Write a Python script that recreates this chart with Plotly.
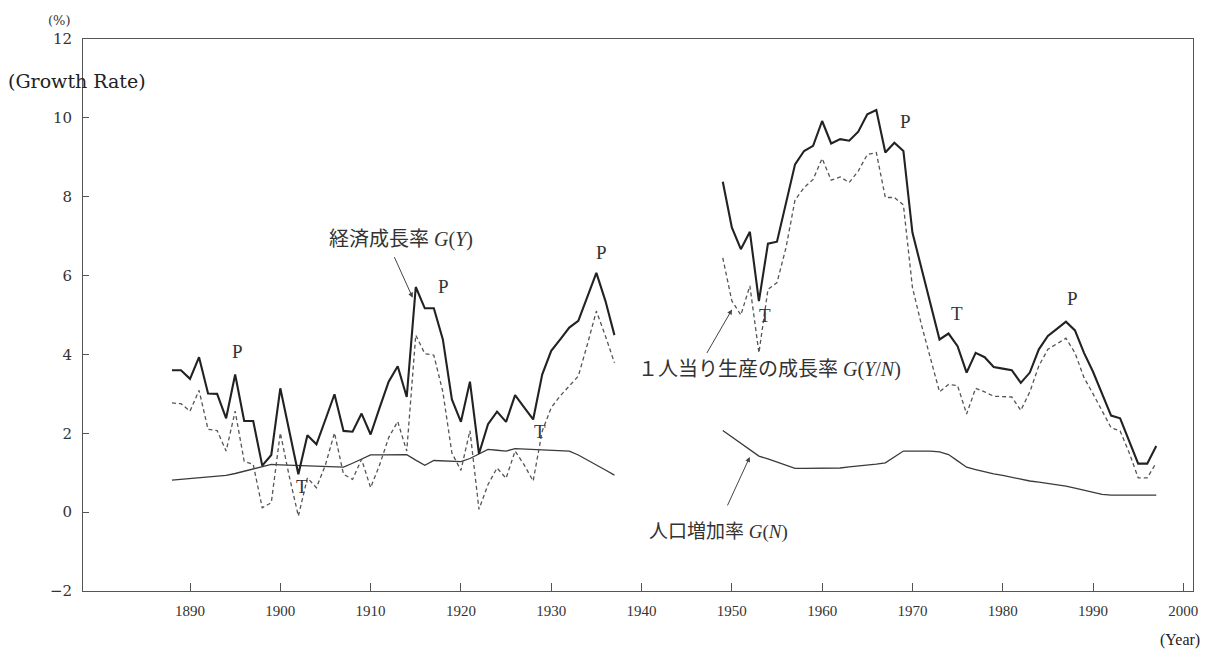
import plotly.graph_objects as go

# ---------------- data ----------------
years_pre = list(range(1888, 1938))
gy_pre = [3.60, 3.60, 3.38, 3.93, 3.01, 3.00, 2.38, 3.49, 2.31, 2.31,
          1.18, 1.45, 3.14, 2.05, 0.96, 1.95, 1.72, 2.35, 2.99, 2.06,
          2.04, 2.50, 1.97, 2.65, 3.31, 3.70, 2.92, 5.71, 5.17, 5.17,
          4.38, 2.86, 2.29, 3.31, 1.48, 2.23, 2.55, 2.29, 2.97, 2.66,
          2.35, 3.49, 4.09, 4.38, 4.68, 4.85, 5.45, 6.07, 5.36, 4.49]
gyn_pre = [2.77, 2.75, 2.56, 3.09, 2.10, 2.07, 1.55, 2.56, 1.29, 1.21,
           0.11, 0.24, 2.01, 0.90, -0.10, 0.87, 0.62, 1.20, 2.01, 0.96,
           0.83, 1.34, 0.62, 1.20, 1.89, 2.30, 1.55, 4.49, 4.02, 3.98,
           3.05, 1.50, 1.06, 2.07, 0.07, 0.70, 1.12, 0.86, 1.55, 1.20,
           0.79, 2.05, 2.65, 2.95, 3.20, 3.45, 4.25, 5.10, 4.47, 3.79]
gn_pre = [0.81, 0.83, 0.85, 0.87, 0.89, 0.91, 0.93, 0.98, 1.04, 1.10,
          1.16, 1.21, 1.20, 1.19, 1.18, 1.17, 1.16, 1.15, 1.14, 1.14,
          1.24, 1.35, 1.45, 1.45, 1.45, 1.45, 1.46, 1.32, 1.19, 1.31,
          1.30, 1.29, 1.28, 1.36, 1.48, 1.59, 1.57, 1.55, 1.61, 1.60,
          1.59, 1.58, 1.57, 1.56, 1.55, 1.45, 1.33, 1.20, 1.07, 0.94]

years_post = list(range(1949, 1998))
gy_post = [8.38, 7.22, 6.67, 7.11, 5.35, 6.81, 6.86, 7.85, 8.82, 9.16,
           9.29, 9.92, 9.35, 9.46, 9.42, 9.65, 10.09, 10.20, 9.12, 9.37,
           9.16, 7.09, 6.20, 5.30, 4.38, 4.53, 4.21, 3.54, 4.04, 3.93,
           3.68, 3.64, 3.60, 3.28, 3.54, 4.13, 4.47, 4.65, 4.83, 4.61,
           4.04, 3.56, 2.99, 2.45, 2.38, 1.80, 1.23, 1.23, 1.68]
gyn_post = [6.45, 5.36, 5.00, 5.74, 4.04, 5.65, 5.82, 6.71, 7.92, 8.23,
            8.44, 8.97, 8.42, 8.50, 8.36, 8.65, 9.07, 9.12, 7.98, 7.98,
            7.79, 5.70, 4.75, 3.90, 3.05, 3.24, 3.21, 2.49, 3.14, 3.05,
            2.94, 2.93, 2.92, 2.58, 3.05, 3.71, 4.13, 4.27, 4.41, 4.04,
            3.41, 3.00, 2.55, 2.14, 2.06, 1.51, 0.87, 0.87, 1.25]
gn_post = [2.07, 1.91, 1.75, 1.58, 1.42, 1.35, 1.27, 1.19, 1.11, 1.11,
           1.11, 1.12, 1.12, 1.12, 1.15, 1.17, 1.20, 1.22, 1.25, 1.40,
           1.55, 1.55, 1.55, 1.55, 1.53, 1.46, 1.30, 1.14, 1.08, 1.02,
           0.97, 0.93, 0.88, 0.83, 0.79, 0.76, 0.73, 0.70, 0.66, 0.61,
           0.56, 0.50, 0.45, 0.43, 0.43, 0.43, 0.43, 0.43, 0.43]

x_ticks = list(range(1890, 2001, 10))
y_ticks = [-2, 0, 2, 4, 6, 8, 10, 12]

# peak / trough markers (year, value, letter)
pt_years = [1895.3, 1918.1, 1935.6, 1969.2, 1987.7, 1902.4, 1928.8, 1953.7, 1974.9]
pt_vals = [4.07, 5.72, 6.59, 9.92, 5.42, 0.64, 2.04, 4.99, 5.04]
pt_text = ["P", "P", "P", "P", "P", "T", "T", "T", "T"]

SERIF = "Liberation Serif, Times New Roman, serif"
WSERIF = "DejaVu Serif, serif"
MIX = "Liberation Serif, Noto Sans CJK JP, serif"

fig = go.Figure()

def add_series(xs, ys, width, color, dash):
    fig.add_trace(go.Scatter(x=xs, y=ys, mode="lines",
                             line=dict(color=color, width=width, dash=dash),
                             showlegend=False, hoverinfo="skip"))

for yrs, gn in [(years_pre, gn_pre), (years_post, gn_post)]:
    add_series(yrs, gn, 1.3, "#3a3a3a", "solid")
for yrs, gyn in [(years_pre, gyn_pre), (years_post, gyn_post)]:
    add_series(yrs, gyn, 1.3, "#555555", "4px,3px")
for yrs, gy in [(years_pre, gy_pre), (years_post, gy_post)]:
    add_series(yrs, gy, 2.1, "#222222", "solid")

annotations = []
for xv, yv, t in zip(pt_years, pt_vals, pt_text):
    annotations.append(dict(x=xv, y=yv, text=t, showarrow=False,
                            font=dict(family=SERIF, size=19, color="#333")))

# series labels
annotations.append(dict(x=1913.4, y=6.92, text="経済成長率 <i>G</i>(<i>Y</i>)",
                        showarrow=False, font=dict(family=MIX, size=20, color="#333")))
annotations.append(dict(x=1954.2, y=3.61, text="１人当り生産の成長率 <i>G</i>(<i>Y</i>/<i>N</i>)",
                        showarrow=False, font=dict(family=MIX, size=20, color="#333")))
annotations.append(dict(x=1948.5, y=-0.50, text="人口増加率 <i>G</i>(<i>N</i>)",
                        showarrow=False, font=dict(family=MIX, size=19, color="#333")))

# arrows
for hx, hy, ax, ay in [(1914.66, 5.44, -19, -42), (1950.02, 5.14, -26, 45), (1951.99, 1.40, -23, 50)]:
    annotations.append(dict(x=hx, y=hy, ax=ax, ay=ay, text="", showarrow=True,
                            arrowhead=2, arrowsize=1, arrowwidth=1, arrowcolor="#444"))

# axis captions
annotations.append(dict(x=-0.0216, y=1.034, xref="paper", yref="paper", text="(%)",
                        xanchor="center", yanchor="middle", showarrow=False,
                        font=dict(family=WSERIF, size=13, color="#333")))
annotations.append(dict(x=-0.0054, y=0.924, xref="paper", yref="paper", text="(Growth Rate)",
                        xanchor="center", yanchor="middle", showarrow=False,
                        font=dict(family=WSERIF, size=19, color="#222")))
annotations.append(dict(x=0.988, y=-0.089, xref="paper", yref="paper", text="(Year)",
                        xanchor="center", yanchor="middle", showarrow=False,
                        font=dict(family=SERIF, size=16, color="#222")))

fig.update_layout(
    width=1206, height=651,
    margin=dict(l=75, r=21, t=31, b=68),
    paper_bgcolor="white", plot_bgcolor="white",
    annotations=annotations,
    xaxis=dict(range=[1878.15, 2001.07], tickvals=x_ticks, ticktext=[str(v) for v in x_ticks],
               ticks="inside", ticklen=8, tickcolor="#555", showgrid=False, zeroline=False,
               showline=True, linecolor="#555", linewidth=1, mirror=True,
               tickfont=dict(family=SERIF, size=15, color="#333"), ticklabelstandoff=6),
    yaxis=dict(range=[-2, 12], tickvals=y_ticks, ticks="inside", ticklen=6, tickcolor="#555",
               showgrid=False, zeroline=False, showline=True, linecolor="#555", linewidth=1,
               mirror=True, tickfont=dict(family=WSERIF, size=15, color="#333"),
               ticklabelstandoff=7),
)

fig.write_html("out.html")
